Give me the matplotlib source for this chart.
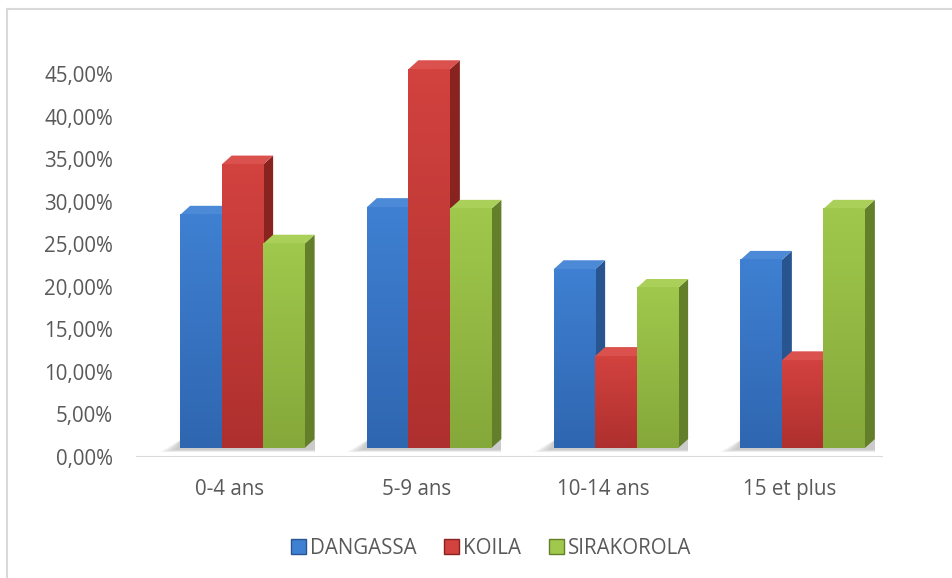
import matplotlib
matplotlib.use('Agg')
import matplotlib.pyplot as plt
import numpy as np
from matplotlib.patches import Polygon, Patch
from matplotlib.transforms import IdentityTransform, ScaledTranslation
from matplotlib.lines import Line2D
from matplotlib.ticker import FuncFormatter
from matplotlib.colors import to_rgb

# ---------------- data ----------------
categories = ['0-4 ans', '5-9 ans', '10-14 ans', '15 et plus']
series_names = ['DANGASSA', 'KOILA', 'SIRAKOROLA']
dangassa = [27.4, 28.3, 21.0, 22.1]
koila = [33.3, 44.5, 10.8, 10.3]
sirakorola = [24.0, 28.1, 18.8, 28.1]
y_ticks = [0, 5, 10, 15, 20, 25, 30, 35, 40, 45]

# ---------------- style ----------------
front_top = ['#3F80D2', '#D2423F', '#A0C84C']
front_bot = ['#2F66B0', '#AE302E', '#85A83A']
top_colors = ['#4C8AD8', '#DA514E', '#ABD05A']
side_colors = ['#285590', '#88231F', '#637F2A']
text_color = '#595959'
plt.rcParams['font.family'] = ['Open Sans', 'DejaVu Sans']
FS = 14.8

W, H, DPI = 952, 578, 100
fig = plt.figure(figsize=(W / DPI, H / DPI), dpi=DPI)
ax = fig.add_axes([136 / W, 121 / H, 747 / W, 383 / H])
XLIM = (-0.5, len(categories) - 0.5)
YLIM = (0, 45)
ax.set_xlim(*XLIM)
ax.set_ylim(*YLIM)
for s in ax.spines.values():
    s.set_visible(False)
ax.set_xticks(range(len(categories)))
ax.set_xticklabels(categories)
ax.set_yticks(y_ticks)
ax.yaxis.set_major_formatter(FuncFormatter(lambda v, p: f"{v:.2f}%".replace('.', ',')))
ax.tick_params(axis='both', length=0, labelsize=FS, labelcolor=text_color)
ax.tick_params(axis='y', pad=16.5)
ax.tick_params(axis='x', pad=15.5)
ax.axhline(0, color='#d9d9d9', lw=1.5, zorder=1)

# 3D-ish offset of bars (Excel 3D clustered column look)
off = ScaledTranslation(13 / DPI, 9 / DPI, fig.dpi_scale_trans)
T = ax.transData + off
dx, dy = 10, 9
w = 1 / 4.5
x = np.arange(len(categories))
series = [dangassa, koila, sirakorola]

# soft floor shadows
for i in x:
    X0 = T.transform((i - 1.5 * w, 0))
    X1 = T.transform((i + 1.5 * w, 0))
    for k in range(6):
        ext = 20 - 3 * k
        shadow = Polygon([(X0[0] - ext, X0[1] - 4 + 0.5 * k), (X1[0] + dx, X1[1] - 4 + 0.5 * k),
                          (X1[0] + dx, X1[1] + dy), (X0[0] + 2, X0[1] + dy)],
                         closed=True, transform=IdentityTransform(),
                         facecolor='#808080', alpha=0.08, edgecolor='none', zorder=2,
                         clip_on=False)
        ax.add_patch(shadow)

for j, vals in enumerate(series):
    xs = x + (j - 1) * w
    bars = ax.bar(xs, vals, w, color=front_top[j], transform=T, zorder=4 + 2 * j,
                  clip_on=False, linewidth=0)
    c_top = np.array(to_rgb(front_top[j]))
    c_bot = np.array(to_rgb(front_bot[j]))
    for xc, v in zip(xs, vals):
        t = np.linspace(0, 1, 64)[:, None]
        grad = (c_top * (1 - t) + c_bot * t)[:, None, :]
        im = ax.imshow(grad, extent=(xc - w / 2, xc + w / 2, 0, v), aspect='auto',
                       origin='upper', transform=T, zorder=4.5 + 2 * j,
                       interpolation='bilinear', clip_on=False)
        p0 = T.transform((xc - w / 2, v))
        p1 = T.transform((xc + w / 2, v))
        b1 = T.transform((xc + w / 2, 0))
        top = Polygon([p0, p1, (p1[0] + dx, p1[1] + dy), (p0[0] + dx, p0[1] + dy)],
                      closed=True, transform=IdentityTransform(), facecolor=top_colors[j],
                      edgecolor='none', zorder=3 + 2 * j, clip_on=False)
        side = Polygon([b1, p1, (p1[0] + dx, p1[1] + dy), (b1[0] + dx, b1[1] + dy)],
                       closed=True, transform=IdentityTransform(), facecolor=side_colors[j],
                       edgecolor='none', zorder=3 + 2 * j, clip_on=False)
        ax.add_patch(side)
        ax.add_patch(top)

ax.set_xlim(*XLIM)
ax.set_ylim(*YLIM)

# legend
handles = [Patch(facecolor=front_top[j], edgecolor=side_colors[j], linewidth=1)
           for j in range(len(series_names))]
fig.legend(handles, series_names, loc='center', bbox_to_anchor=(491 / W, 1 - 548 / H),
           ncol=3, frameon=False, handlelength=0.72, handleheight=0.72, handletextpad=0.2,
           columnspacing=1.35, fontsize=FS, labelcolor=text_color)

# chart border
fig.add_artist(Line2D([7 / W, 7 / W], [0, 1 - 9 / H], color='#d9d9d9', lw=1.5))
fig.add_artist(Line2D([7 / W, 1], [1 - 9 / H, 1 - 9 / H], color='#d9d9d9', lw=1.5))

fig.savefig('out.png', dpi=DPI)
